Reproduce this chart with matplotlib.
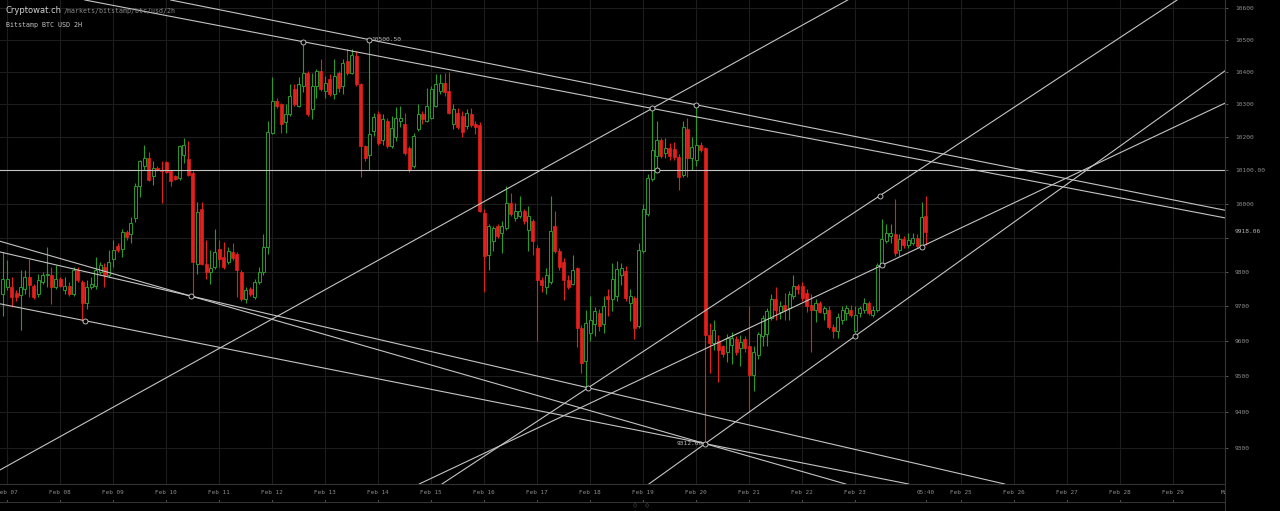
import matplotlib
matplotlib.use("Agg")
import matplotlib.pyplot as plt
import matplotlib.dates as mdates
from matplotlib.lines import Line2D
from matplotlib.ticker import FixedLocator, FixedFormatter, NullLocator
import numpy as np
import pandas as pd

# Bitstamp BTC/USD 2H candles, first candle opens 2020-02-06 22:00
first_open = "2020-02-06 22:00"

opens = [
    9736, 9756, 9756, 9738, 9734, 9751, 9785, 9760, 9736, 9770, 9790, 9790,
    9756, 9780, 9746, 9760, 9736, 9804, 9770, 9711, 9756, 9760, 9800, 9815,
    9790, 9839, 9875, 9868, 9917, 9910, 9957, 10052, 10112, 10137, 10082, 10107,
    10102, 10124, 10097, 10082, 10077, 10147, 10134, 10092, 9824, 9984, 9824, 9800,
    9814, 9868, 9843, 9829, 9858, 9853, 9800, 9721, 9751, 9726, 9770, 9800,
    9873, 10214, 10311, 10301, 10245, 10270, 10347, 10296, 10357, 10398, 10285, 10357,
    10403, 10342, 10378, 10332, 10398, 10357, 10434, 10398, 10449, 10362, 10173, 10147,
    10219, 10270, 10193, 10250, 10173, 10200, 10250, 10240, 10168, 10112, 10224, 10270,
    10250, 10260, 10296, 10342, 10367, 10340, 10240, 10275, 10265, 10235, 10270, 10240,
    10236, 9974, 9850, 9890, 9934, 9914, 9929, 10003, 9959, 9964, 9979, 9924,
    9949, 9870, 9776, 9756, 9771, 9934, 9860, 9830, 9776, 9766, 9810, 9638,
    9545, 9623, 9648, 9682, 9648, 9730, 9720, 9730, 9792, 9802, 9711, 9725,
    9643, 9860, 9969, 10073, 10142, 10192, 10152, 10167, 10165, 10140, 10085, 10226,
    10137, 10132, 10177, 10167, 9618, 9595, 9600, 9585, 9568, 9590, 9605, 9580,
    9605, 9585, 9505, 9560, 9615, 9620, 9667, 9720, 9685, 9705, 9695, 9730,
    9760, 9760, 9740, 9705, 9690, 9710, 9680, 9690, 9640, 9628, 9660, 9680,
    9690, 9630, 9680, 9690, 9710, 9675, 9690, 9822, 9890, 9905, 9910, 9865,
    9895, 9880, 9885, 9900, 9880, 9965,
]
highs = [
    9858, 9834, 9785, 9746, 9804, 9804, 9839, 9765, 9795, 9800, 9873, 9814,
    9819, 9785, 9785, 9770, 9814, 9814, 9775, 9775, 9785, 9843, 9829, 9825,
    9863, 9892, 9883, 9927, 9922, 9962, 10062, 10132, 10177, 10157, 10127, 10112,
    10127, 10127, 10102, 10087, 10177, 10197, 10190, 10097, 10007, 10007, 9892, 9863,
    9927, 9892, 9888, 9873, 9883, 9858, 9804, 9756, 9756, 9780, 9814, 9912,
    10250, 10383, 10320, 10306, 10301, 10362, 10362, 10383, 10494, 10403, 10398, 10408,
    10439, 10388, 10393, 10439, 10403, 10439, 10470, 10470, 10465, 10367, 10178, 10500.5,
    10275, 10280, 10270, 10260, 10265, 10291, 10296, 10275, 10173, 10214, 10301, 10280,
    10352, 10357, 10393, 10393, 10398, 10400, 10300, 10290, 10280, 10285, 10290, 10250,
    10245, 9984, 9939, 9934, 9939, 9949, 10053, 10033, 10003, 10023, 9984, 9994,
    9954, 9880, 9786, 9810, 10023, 9979, 9870, 9840, 9790, 9850, 9815, 9645,
    9690, 9730, 9697, 9692, 9730, 9750, 9826, 9831, 9826, 9816, 9749, 9730,
    9884, 10000, 10088, 10288, 10251, 10197, 10197, 10182, 10185, 10150, 10250, 10260,
    10200, 10299, 10185, 10172, 9652, 9660, 9618, 9590, 9620, 9625, 9615, 9618,
    9615, 9700, 9585, 9625, 9675, 9695, 9735, 9755, 9715, 9740, 9745, 9790,
    9765, 9770, 9750, 9735, 9720, 9715, 9700, 9700, 9650, 9680, 9700, 9705,
    9705, 9700, 9700, 9725, 9715, 9700, 9825, 9955, 9940, 9940, 10015, 9910,
    9905, 9915, 9915, 9910, 10005, 10025,
]
lows = [
    9672, 9746, 9697, 9716, 9633, 9736, 9726, 9721, 9726, 9765, 9756, 9707,
    9751, 9756, 9736, 9731, 9731, 9770, 9657, 9692, 9751, 9751, 9795, 9756,
    9785, 9814, 9858, 9844, 9892, 9883, 9947, 10022, 10102, 10067, 10057, 10097,
    10002, 10092, 10052, 10072, 10072, 10122, 10082, 9733, 9795, 9819, 9780, 9765,
    9809, 9814, 9809, 9824, 9834, 9726, 9716, 9711, 9731, 9721, 9765, 9790,
    9853, 10209, 10290, 10214, 10214, 10265, 10296, 10291, 10337, 10265, 10255, 10321,
    10342, 10321, 10326, 10316, 10337, 10332, 10390, 10393, 10357, 10081, 10127, 10101,
    10204, 10178, 10178, 10168, 10168, 10190, 10230, 10147, 10096, 10107, 10219, 10240,
    10245, 10255, 10291, 10332, 10326, 10270, 10225, 10225, 10200, 10225, 10230, 10210,
    9975, 9741, 9805, 9860, 9900, 9855, 9924, 9964, 9949, 9959, 9939, 9860,
    9850, 9600, 9741, 9736, 9766, 9855, 9805, 9718, 9751, 9761, 9584, 9510,
    9468, 9600, 9615, 9628, 9624, 9672, 9687, 9716, 9763, 9716, 9658, 9605,
    9639, 9855, 9964, 10068, 10100, 10137, 10137, 10132, 10130, 10040, 10080, 10080,
    10100, 10112, 10155, 9312, 9510, 9575, 9485, 9555, 9540, 9535, 9560, 9530,
    9570, 9400, 9460, 9550, 9585, 9585, 9660, 9660, 9665, 9660, 9660, 9720,
    9735, 9715, 9685, 9570, 9655, 9680, 9660, 9635, 9610, 9610, 9650, 9660,
    9670, 9615, 9670, 9680, 9675, 9670, 9685, 9819, 9885, 9885, 9845, 9845,
    9870, 9870, 9880, 9870, 9874, 9880,
]
closes = [
    9780, 9780, 9726, 9726, 9756, 9785, 9763, 9726, 9775, 9790, 9795, 9756,
    9780, 9760, 9760, 9736, 9804, 9775, 9711, 9756, 9765, 9804, 9819, 9790,
    9829, 9863, 9865, 9917, 9902, 9944, 10052, 10127, 10137, 10072, 10107, 10102,
    10097, 10094, 10067, 10074, 10174, 10177, 10087, 9829, 9977, 9824, 9800, 9810,
    9858, 9839, 9814, 9861, 9841, 9804, 9721, 9746, 9736, 9770, 9800, 9873,
    10215, 10311, 10296, 10239, 10270, 10326, 10301, 10362, 10398, 10270, 10357, 10403,
    10347, 10367, 10332, 10388, 10352, 10429, 10398, 10454, 10362, 10173, 10137, 10209,
    10263, 10183, 10255, 10173, 10229, 10260, 10258, 10153, 10101, 10204, 10270, 10255,
    10296, 10347, 10362, 10367, 10337, 10275, 10285, 10232, 10215, 10275, 10236, 10232,
    9980, 9845, 9934, 9929, 9904, 9934, 10003, 9969, 9979, 9979, 9949, 9964,
    9890, 9776, 9761, 9791, 9919, 9860, 9815, 9776, 9756, 9805, 9637, 9539,
    9652, 9661, 9686, 9643, 9701, 9720, 9778, 9807, 9812, 9725, 9730, 9639,
    9864, 9984, 10078, 10162, 10192, 10142, 10167, 10142, 10140, 10080, 10231, 10137,
    10170, 10177, 10162, 9618, 9595, 9632, 9576, 9565, 9610, 9608, 9570, 9598,
    9580, 9505, 9570, 9620, 9667, 9688, 9720, 9690, 9700, 9690, 9735, 9760,
    9750, 9725, 9700, 9690, 9710, 9685, 9695, 9640, 9628, 9670, 9690, 9695,
    9675, 9675, 9695, 9710, 9680, 9690, 9820, 9895, 9915, 9915, 9855, 9895,
    9880, 9893, 9900, 9875, 9960, 9918.06,
]

# trend lines drawn by the user, each through two (time, price) points
trend_lines = [
    (("2020-02-13 20:00", 10500.5), ("2020-02-20 00:00", 10299)),
    (("2020-02-12 14:00", 10494), ("2020-02-19 04:00", 10288)),
    (("2020-02-06 22:00", 9244), ("2020-02-19 04:00", 10288)),
    (("2020-02-17 23:00", 9468), ("2020-02-23 11:00", 10024)),
    (("2020-02-23 12:00", 9819), ("2020-02-24 06:00", 9874)),
    (("2020-02-20 04:00", 9312), ("2020-02-23 00:00", 9615)),
    (("2020-02-10 11:00", 9730), ("2020-02-20 04:00", 9312)),
    (("2020-02-10 11:00", 9730), ("2020-02-17 23:00", 9468)),
    (("2020-02-08 11:00", 9659), ("2020-02-20 04:00", 9312)),
]
horizontal_level = 10100
anchor_points = [
    ("2020-02-12 14:00", 10494), ("2020-02-13 20:00", 10500.5),
    ("2020-02-19 04:00", 10288), ("2020-02-20 00:00", 10299),
    ("2020-02-19 06:00", 10100), ("2020-02-10 11:00", 9730),
    ("2020-02-08 11:00", 9659), ("2020-02-17 23:00", 9468),
    ("2020-02-20 04:00", 9312), ("2020-02-23 11:00", 10024),
    ("2020-02-23 12:00", 9819), ("2020-02-24 06:00", 9874),
    ("2020-02-23 00:00", 9615),
]

price_ticks = [9300, 9400, 9500, 9600, 9700, 9800, 9900, 10000,
               10100, 10200, 10300, 10400, 10500, 10600]
price_labels = ["9300", "9400", "9500", "9600", "9700", "9800", "", "10000",
                "10100.00", "10200", "10300", "10400", "10500", "10600"]
last_price = 9918.06

date_labels = ["Feb 07", "Feb 08", "Feb 09", "Feb 10", "Feb 11", "Feb 12",
               "Feb 13", "Feb 14", "Feb 15", "Feb 16", "Feb 17", "Feb 18",
               "Feb 19", "Feb 20", "Feb 21", "Feb 22", "Feb 23", "05:40",
               "Feb 25", "Feb 26", "Feb 27", "Feb 28", "Feb 29", "Mar"]
date_positions = [f"2020-02-{d:02d}" for d in range(7, 24)] + ["2020-02-24 08:00"] + \
                 [f"2020-02-{d:02d}" for d in range(25, 30)] + ["2020-03-01"]

GREEN = "#2a9a2a"
RED = "#e3201c"
LINE = "#c4c4c4"
GRID = "#1d1d1d"
AXIS = "#333333"
TEXT = "#8c8c8c"

plt.rcParams["font.family"] = ["DejaVu Sans Mono", "DejaVu Sans"]

W, H = 1280, 511
fig = plt.figure(figsize=(W / 100, H / 100), dpi=100, facecolor="black")
right_px, bottom_px = 1225, 484
ax = fig.add_axes([0, (H - bottom_px) / H, right_px / W, bottom_px / H])
ax.set_facecolor("black")

t = mdates.date2num(pd.date_range(first_open, periods=len(opens), freq="2h"))
o, h, l, c = map(np.asarray, (opens, highs, lows, closes))
day0 = mdates.date2num(pd.Timestamp("2020-02-07"))
xlim = (day0 - 7.3 / 53.0, day0 + (right_px - 7.3) / 53.0)

ax.set_yscale("log")
ax.set_xlim(*xlim)
ax.set_ylim(9201, 10625)

# grid
ax.xaxis.set_major_locator(mdates.DayLocator())
ax.xaxis.set_minor_locator(NullLocator())
ax.yaxis.set_major_locator(FixedLocator(price_ticks))
ax.yaxis.set_major_formatter(FixedFormatter(price_labels))
ax.yaxis.set_minor_locator(NullLocator())
ax.grid(True, color=GRID, lw=0.8, zorder=0)
ax.tick_params(axis="x", length=0, labelbottom=False)
ax.tick_params(axis="y", left=False, labelleft=False, right=True, labelright=True,
               length=2, width=0.6, color="#666666", labelcolor=TEXT,
               labelsize=4.5, pad=5.2)
for s in ("top", "left"):
    ax.spines[s].set_visible(False)
for s in ("bottom", "right"):
    ax.spines[s].set_color(AXIS)
    ax.spines[s].set_linewidth(0.8)

# candles: hollow green up candles, filled red down candles
up = c >= o
lo_b = np.minimum(o, c)
hi_b = np.maximum(o, c)
w = 0.056
ax.vlines(t[up], hi_b[up], h[up], color=GREEN, lw=0.8, zorder=3)
ax.vlines(t[up], l[up], lo_b[up], color=GREEN, lw=0.8, zorder=3)
ax.vlines(t[~up], l[~up], h[~up], color=RED, lw=0.8, zorder=3)
ax.bar(t[up], hi_b[up] - lo_b[up], bottom=lo_b[up], width=w, facecolor="black",
       edgecolor=GREEN, linewidth=0.7, zorder=3)
ax.bar(t[~up], hi_b[~up] - lo_b[~up], bottom=lo_b[~up], width=w, facecolor=RED,
       edgecolor=RED, linewidth=0.5, zorder=3)

# drawings
for (ta, pa), (tb, pb) in trend_lines:
    ax.axline((mdates.date2num(pd.Timestamp(ta)), pa),
              (mdates.date2num(pd.Timestamp(tb)), pb),
              color=LINE, lw=0.8, zorder=4)
ax.axhline(horizontal_level, color=LINE, lw=0.8, zorder=4)
ax_t = [mdates.date2num(pd.Timestamp(a)) for a, _ in anchor_points]
ax_p = [p for _, p in anchor_points]
ax.plot(ax_t, ax_p, "o", ms=3.6, mfc="black", mec="#d0d0d0", mew=0.6, zorder=6)
ax.annotate("10500.50", (mdates.date2num(pd.Timestamp("2020-02-13 20:00")), 10500.5),
            xytext=(1.6, 0.3), textcoords="offset points", ha="left", va="center",
            fontsize=4.5, color="#bdbdbd", zorder=7)
ax.annotate("9312.00", (mdates.date2num(pd.Timestamp("2020-02-20 04:00")), 9312),
            xytext=(-1.5, 0.3), textcoords="offset points", ha="right", va="center",
            fontsize=4.5, color="#bdbdbd", zorder=7)

# last price label on the price axis
ax.text(1.0 + 10 / right_px, last_price, f"{last_price:.2f}",
        transform=ax.get_yaxis_transform(), ha="left", va="center",
        fontsize=4.5, color="#b0b0b0", clip_on=False, zorder=7)

# time axis strip below the chart
axs = fig.add_axes([0, 0, right_px / W, (H - bottom_px) / H])
axs.set_xlim(*xlim)
axs.set_ylim(H - bottom_px, 0)
axs.axis("off")
for lab, pos in zip(date_labels, date_positions):
    xv = mdates.date2num(pd.Timestamp(pos))
    axs.text(xv, 8.6, lab, ha="center", va="center", fontsize=4.3, color=TEXT,
             clip_on=True)
    axs.plot([xv, xv], [15.8, 17.6], color="#666666", lw=0.6)
axs.axhline(18, color=AXIS, lw=0.8)

fig.add_artist(Line2D([right_px / W] * 2, [0, 1], transform=fig.transFigure,
                      color=AXIS, lw=0.8))
fig.text(635 / W, 1 - 505.7 / H, "\u25c7", ha="center", va="center",
         fontsize=4, color="#777777", family="DejaVu Sans")
fig.text(647 / W, 1 - 505.7 / H, "\u25c7", ha="center", va="center",
         fontsize=4, color="#777777", family="DejaVu Sans")

# header
fig.text(6 / W, 1 - 10.5 / H, "Cryptowat.ch", ha="left", va="center",
         fontsize=6.0, color="#cfcfcf", family="DejaVu Sans")
fig.text(64 / W, 1 - 11 / H, "/markets/bitstamp/btc/usd/2h", ha="left",
         va="center", fontsize=4.8, color="#8a8a8a")
fig.text(6 / W, 1 - 24.5 / H, "Bitstamp BTC USD 2H", ha="left", va="center",
         fontsize=4.8, color="#c4c4c4")

fig.savefig("out.png", dpi=100, facecolor="black")
